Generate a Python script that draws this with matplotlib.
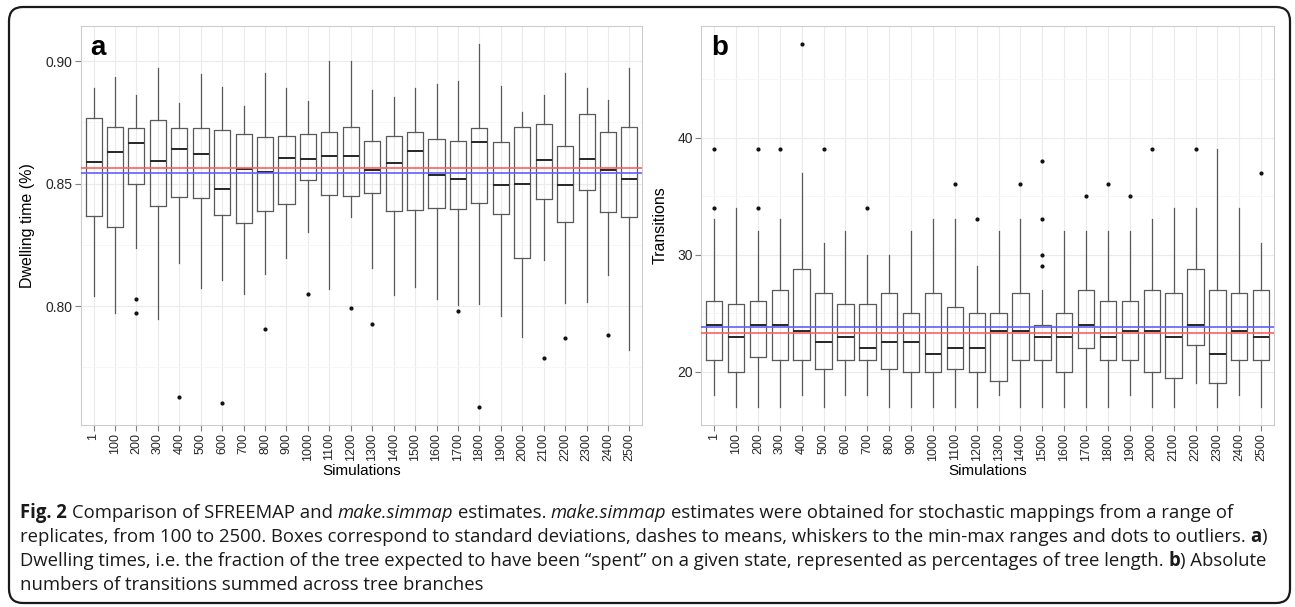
import numpy as np
import matplotlib
matplotlib.use('Agg')
import matplotlib.pyplot as plt
from matplotlib.patches import FancyBboxPatch
from matplotlib.transforms import IdentityTransform

plt.rcParams['font.family'] = ['Liberation Sans', 'DejaVu Sans']

W, H = 1295, 607

cats = ['1'] + [str(v) for v in range(100, 2600, 100)]

# panel a: dwelling time
a_whishi = [0.889, 0.8935, 0.886, 0.897, 0.883, 0.8945, 0.8895, 0.8815, 0.895, 0.889, 0.8835, 0.900, 0.900,
            0.888, 0.8855, 0.889, 0.8905, 0.892, 0.907, 0.890, 0.879, 0.886, 0.895, 0.889, 0.884, 0.897]
a_q3 = [0.8766, 0.8730, 0.8725, 0.8759, 0.8727, 0.8728, 0.8717, 0.8704, 0.8689, 0.8693, 0.8701, 0.8712, 0.8730,
        0.8674, 0.8692, 0.8712, 0.8682, 0.8674, 0.8727, 0.8670, 0.8730, 0.8743, 0.8652, 0.8783, 0.8709, 0.8730]
a_med = [0.8587, 0.8629, 0.8664, 0.8592, 0.8641, 0.8619, 0.8478, 0.8560, 0.8547, 0.8605, 0.8600, 0.8614, 0.8611,
         0.8554, 0.8583, 0.8633, 0.8535, 0.8519, 0.8668, 0.8496, 0.8497, 0.8596, 0.8496, 0.8602, 0.8557, 0.8518]
a_q1 = [0.8369, 0.8322, 0.8497, 0.8407, 0.8447, 0.8441, 0.8372, 0.8340, 0.8390, 0.8418, 0.8513, 0.8454, 0.8448,
        0.8462, 0.8388, 0.8393, 0.8402, 0.8398, 0.8422, 0.8376, 0.8197, 0.8435, 0.8342, 0.8475, 0.8386, 0.8363]
a_whislo = [0.8041, 0.7973, 0.8239, 0.7948, 0.8176, 0.8075, 0.8106, 0.8051, 0.8132, 0.8197, 0.8303, 0.8068, 0.8365,
            0.8155, 0.8046, 0.8079, 0.8030, 0.8003, 0.8009, 0.7960, 0.7875, 0.8187, 0.8012, 0.8017, 0.8125, 0.7822]
a_fliers = [[], [], [0.8031, 0.7973], [], [0.7629], [], [0.7603], [], [0.7907], [], [0.8050], [], [0.7993],
            [0.7928], [], [], [], [0.7981], [0.7589], [], [], [0.7789], [0.7868], [], [0.7884], []]
a_red, a_blue = 0.8562, 0.8542

# panel b: transitions
b_whishi = [33, 34, 32, 33, 37, 31, 32, 30, 30, 32, 33, 33, 29, 32, 33, 27, 32, 32, 32, 32, 33, 34, 34, 39, 34, 31]
b_q3 = [26, 25.75, 26, 27, 28.75, 26.75, 25.75, 25.75, 26.75, 25, 26.75, 25.5, 25, 25, 26.75, 24, 25, 27, 26, 26,
        27, 26.75, 28.75, 27, 26.75, 27]
b_med = [24, 23, 24, 24, 23.5, 22.5, 23, 22, 22.5, 22.5, 21.5, 22, 22, 23.5, 23.5, 23, 23, 24, 23, 23.5, 23.5, 23,
         24, 21.5, 23.5, 23]
b_q1 = [21, 20, 21.25, 21, 21, 20.25, 21, 21, 20.25, 20, 20, 20.25, 20, 19.25, 21, 21, 20, 22, 21, 21, 20, 19.5,
        22.25, 19, 21, 21]
b_whislo = [18, 17, 17, 17, 18, 17, 18, 18, 17, 17, 17, 17, 17, 18, 17, 17, 17, 17, 17, 18, 17, 17, 19, 17, 18, 17]
b_fliers = [[34, 39], [], [34, 39], [39], [48], [39], [], [34], [], [], [], [36], [33], [], [36], [29, 30, 33, 38],
            [], [35], [36], [35], [39], [], [39], [], [], [37]]
b_red, b_blue = 23.27, 23.78

caption = [
    [("Fig. 2", 'bold', 'normal'), (" Comparison of SFREEMAP and ", 'normal', 'normal'),
     ("make.simmap", 'normal', 'italic'), (" estimates. ", 'normal', 'normal'),
     ("make.simmap", 'normal', 'italic'),
     (" estimates were obtained for stochastic mappings from a range of", 'normal', 'normal')],
    [("replicates, from 100 to 2500. Boxes correspond to standard deviations, dashes to means, whiskers to the "
      "min-max ranges and dots to outliers. ", 'normal', 'normal'), ("a", 'bold', 'normal'), (")", 'normal', 'normal')],
    [("Dwelling times, i.e. the fraction of the tree expected to have been \u201cspent\u201d on a given state, "
      "represented as percentages of tree length. ", 'normal', 'normal'), ("b", 'bold', 'normal'),
     (") Absolute", 'normal', 'normal')],
    [("numbers of transitions summed across tree branches", 'normal', 'normal')],
]


def make_stats(q1, med, q3, lo, hi, fl):
    return [dict(q1=q1[i], med=med[i], q3=q3[i], whislo=lo[i], whishi=hi[i], fliers=np.array(fl[i], float))
            for i in range(len(med))]


def panel(ax, st, ylabel, letter, major, minor, fmt, red, blue, ylab_x):
    pos = np.arange(1, len(cats) + 1)
    ax.bxp(st, positions=pos, widths=0.75, showcaps=False,
           boxprops=dict(color='#595959', lw=0.9),
           whiskerprops=dict(color='#595959', lw=0.9),
           medianprops=dict(color='#262626', lw=1.4),
           flierprops=dict(marker='o', markersize=2, markerfacecolor='#111111',
                           markeredgecolor='#111111', lw=0))
    ax.axhline(red, color='#ff6060', lw=1.2, zorder=5)
    ax.axhline(blue, color='#6060ff', lw=1.2, zorder=5)
    vals = [s['whislo'] for s in st] + [s['whishi'] for s in st] + \
           [v for s in st for v in s['fliers']]
    lo, hi = min(vals), max(vals)
    pad = 0.05 * (hi - lo)
    ax.set_ylim(lo - pad, hi + pad)
    ax.set_xlim(0.4, len(cats) + 0.6)
    ax.set_xticks(pos, cats, rotation=90)
    ax.set_yticks(major, [fmt.format(v) for v in major])
    ax.set_yticks(minor, minor=True)
    ax.tick_params(which='major', length=4, color='#7f7f7f', labelcolor='#262626', pad=2)
    ax.tick_params(axis='x', labelsize=9)
    ax.tick_params(axis='y', labelsize=10)
    ax.tick_params(which='minor', length=0)
    ax.grid(which='major', color='#ebebeb', lw=0.8)
    ax.grid(which='minor', axis='y', color='#f5f5f5', lw=0.6)
    ax.set_axisbelow(True)
    for sp in ax.spines.values():
        sp.set_color('#cccccc')
        sp.set_linewidth(0.8)
    ax.set_ylabel(ylabel, fontsize=11.5)
    ax.yaxis.set_label_coords(ylab_x, 0.5)
    ax.set_xlabel('Simulations', fontsize=11)
    ax.xaxis.set_label_coords(0.5, -0.097)
    ax.text(0.017, 0.927, letter, transform=ax.transAxes, fontsize=20, fontweight='bold', va='baseline')


fig = plt.figure(figsize=(W / 100, H / 100), dpi=100)

ax_a = fig.add_axes([80.7 / W, 1 - 425 / H, (642.3 - 80.7) / W, (425 - 25.7) / H])
panel(ax_a, make_stats(a_q1, a_med, a_q3, a_whislo, a_whishi, a_fliers), 'Dwelling time (%)', 'a',
      [0.80, 0.85, 0.90], [0.775, 0.825, 0.875], '{:.2f}', a_red, a_blue, -0.081)

ax_b = fig.add_axes([701 / W, 1 - 425 / H, (1274.3 - 701) / W, (425 - 25.7) / H])
panel(ax_b, make_stats(b_q1, b_med, b_q3, b_whislo, b_whishi, b_fliers), 'Transitions', 'b',
      [20, 30, 40], [25, 35, 45], '{:.0f}', b_red, b_blue, -0.059)

# rounded frame around the whole figure
frame = FancyBboxPatch((9, 4), 1281, 596, boxstyle='round,pad=0,rounding_size=14',
                       transform=IdentityTransform(), fill=False, ec='#1a1a1a', lw=1.6)
fig.add_artist(frame)

# caption, drawn run by run
renderer = fig.canvas.get_renderer()
cap_font = ['Open Sans', 'DejaVu Sans']


def run_width(s, size, weight, style):
    t = fig.text(0, 0, '|' + s + '|', fontsize=size, fontweight=weight, fontstyle=style, family=cap_font)
    t2 = fig.text(0, 0, '||', fontsize=size, fontweight=weight, fontstyle=style, family=cap_font)
    w = t.get_window_extent(renderer).width - t2.get_window_extent(renderer).width
    t.remove()
    t2.remove()
    return w


line_w = sum(run_width(s, 10, wt, st) for s, wt, st in caption[0])
cap_size = 10 * (1215 / line_w)

x0 = 20
baselines = [518, 542, 566, 590]
for runs, yb in zip(caption, baselines):
    x = x0
    for s, wt, st in runs:
        body = s.strip(' ')
        lead = len(s) - len(s.lstrip(' '))
        if lead:
            x += run_width(' ' * lead, cap_size, wt, st)
        if body:
            fig.text(x / W, 1 - yb / H, body, fontsize=cap_size, fontweight=wt, fontstyle=st,
                     family=cap_font, va='baseline', ha='left', color='#1a1a1a')
            x += run_width(body, cap_size, wt, st)
        trail = len(s) - len(s.rstrip(' '))
        if trail and body:
            x += run_width(' ' * trail, cap_size, wt, st)

fig.savefig('out.png', dpi=100)
